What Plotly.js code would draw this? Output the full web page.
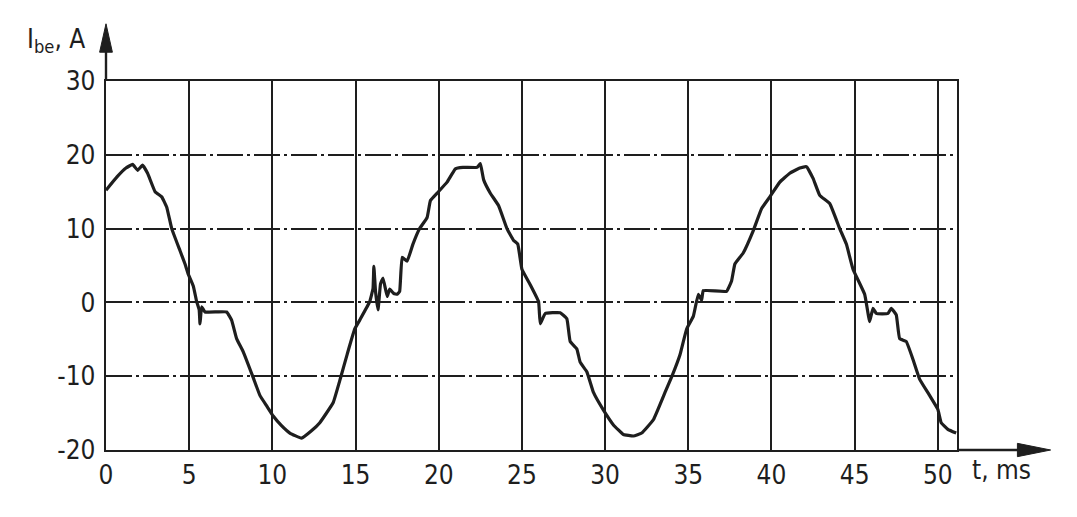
<!DOCTYPE html>
<html>
<head>
<meta charset="utf-8">
<script src="https://cdn.plot.ly/plotly-3.0.1.min.js"></script>
<style>html,body{margin:0;padding:0;background:#fff;}#chart{width:1077px;height:517px;}</style>
</head>
<body>
<div id="chart"></div>
<script>
// time, ms
const tMs = [0,0.66,1.2,1.6,1.9,2.2,2.5,2.95,3.35,3.65,3.95,4.45,4.75,4.95,5.25,5.45,5.6,5.65,5.75,5.95,7.25,7.55,7.85,8.25,8.85,9.25,9.65,10.05,10.55,11.05,11.75,12.35,12.85,13.65,14.1,14.5,14.95,15.25,15.85,16.05,16.1,16.2,16.35,16.5,16.65,16.9,17.05,17.3,17.5,17.65,17.8,18.1,18.45,18.85,19.3,19.5,19.9,20.5,21.0,21.45,22.3,22.5,22.7,23.1,23.6,24.1,24.5,24.75,25.0,25.5,26.0,26.1,26.4,27.3,27.7,27.9,28.3,28.5,28.9,29.3,29.9,30.5,31.1,31.7,32.2,32.9,33.6,34.0,34.5,34.9,35.3,35.6,35.8,35.9,37.3,37.6,37.8,38.3,38.9,39.4,39.9,40.5,41.1,41.7,42.1,42.5,42.9,43.5,44.1,44.5,44.9,45.6,45.9,46.1,46.3,47.0,47.2,47.5,47.7,48.1,48.5,48.9,49.5,50.0,50.2,50.6,51.1];
// current I_be, A
const iBe = [15.2,17.0,18.2,18.7,17.9,18.6,17.5,15.0,14.3,12.9,10.0,7.0,5.2,3.8,2.2,0.1,-1.0,-2.9,-0.6,-1.3,-1.3,-2.4,-4.9,-6.7,-10.2,-12.6,-14.0,-15.4,-16.7,-17.7,-18.4,-17.4,-16.3,-13.6,-10.2,-7.0,-3.6,-2.4,0.1,1.9,4.9,1.5,-1.0,2.5,3.3,0.8,1.8,1.2,1.1,1.5,6.1,5.6,7.9,10.0,11.5,13.8,14.8,16.3,18.1,18.3,18.3,18.8,16.6,14.8,13.1,10.0,8.4,7.9,4.5,2.4,0.1,-2.9,-1.5,-1.4,-2.2,-5.3,-6.3,-8.1,-9.4,-12.2,-14.6,-16.6,-17.9,-18.1,-17.7,-15.9,-12.2,-10.1,-7.1,-3.6,-1.9,1.1,0.3,1.6,1.5,2.9,5.2,6.7,9.7,12.7,14.3,16.3,17.5,18.2,18.4,16.8,14.5,13.4,10.0,7.9,4.5,1.1,-2.6,-0.8,-1.5,-1.5,-0.8,-1.7,-4.9,-5.3,-7.7,-10.4,-12.6,-14.5,-16.3,-17.2,-17.7];
const xTicks = [0,5,10,15,20,25,30,35,40,45,50];
const yTicks = [-20,-10,0,10,20,30];

const ink = '#1e1e1e';
const fontFam = '"DejaVu Sans Condensed", "Liberation Sans Narrow", "Liberation Sans", sans-serif';

const trace = {
  x: tMs, y: iBe, type: 'scatter', mode: 'lines',
  line: {color: ink, width: 3.2, shape: 'spline', smoothing: 0.3},
  hoverinfo: 'skip', showlegend: false
};

const layout = {
  width: 1077, height: 517,
  margin: {l: 106, r: 120, t: 81, b: 67, pad: 0},
  paper_bgcolor: '#fff', plot_bgcolor: '#fff',
  font: {family: fontFam, size: 26, color: ink},
  showlegend: false,
  xaxis: {
    range: [0, 51.15], tickvals: xTicks, ticktext: xTicks.map(String),
    showgrid: true, gridcolor: ink, gridwidth: 2,
    showline: true, linecolor: ink, linewidth: 2.4, mirror: true,
    zeroline: false, ticks: '', ticklabelstandoff: 0,
    tickfont: {family: fontFam, size: 26, color: ink}
  },
  yaxis: {
    range: [-20, 30], tickvals: yTicks, ticktext: yTicks.map(String),
    showgrid: true, gridcolor: ink, gridwidth: 1.8, griddash: '26px,4px,3px,4px',
    showline: true, linecolor: ink, linewidth: 2.4, mirror: true,
    zeroline: false, ticks: '', ticklabelstandoff: 3,
    tickfont: {family: fontFam, size: 26, color: ink}
  },
  shapes: [
    // y axis extension and arrowhead
    {type: 'line', xref: 'paper', yref: 'paper', x0: 0, x1: 0, y0: 1, y1: 1.09, line: {color: ink, width: 2.4}},
    {type: 'path', xref: 'paper', yref: 'paper', path: 'M -0.0075 1.078 L 0 1.155 L 0.0075 1.078 Z', fillcolor: ink, line: {color: ink, width: 1}},
    // x axis extension and arrowhead
    {type: 'line', xref: 'paper', yref: 'paper', x0: 1, x1: 1.075, y0: 0, y1: 0, line: {color: ink, width: 2.4}},
    {type: 'path', xref: 'paper', yref: 'paper', path: 'M 1.071 -0.018 L 1.11 0 L 1.071 0.018 Z', fillcolor: ink, line: {color: ink, width: 1}}
  ],
  annotations: [
    {xref: 'paper', yref: 'paper', x: -0.095, y: 1.11, xanchor: 'left', yanchor: 'middle', showarrow: false,
     text: 'I<sub>be</sub>, A', font: {family: fontFam, size: 26, color: ink}},
    {xref: 'paper', yref: 'paper', x: 1.015, y: -0.055, xanchor: 'left', yanchor: 'middle', showarrow: false,
     text: 't, ms', font: {family: fontFam, size: 26, color: ink}}
  ]
};

Plotly.newPlot('chart', [trace], layout, {staticPlot: true, displayModeBar: false});
</script>
</body>
</html>
